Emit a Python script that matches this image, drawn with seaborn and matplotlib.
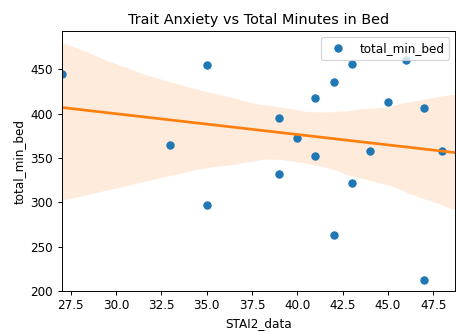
import matplotlib
matplotlib.use("Agg")
import matplotlib.pyplot as plt
import seaborn as sns
import pandas as pd
import numpy as np

stai2 = [27, 35, 33, 35, 43, 46, 42, 41, 45, 47, 39, 40, 41, 44, 48, 39, 43, 42, 47]
total_min_bed = [444, 455, 364, 297, 456, 460, 435, 417, 413, 406, 395, 372, 352, 358, 358, 332, 322, 263, 212]

df = pd.DataFrame({"STAI2_data": stai2, "total_min_bed": total_min_bed})

DPI = 86.4
fig = plt.figure(figsize=(456 / DPI, 332 / DPI), dpi=DPI)
ax = fig.add_axes([0.135, 0.1235, 0.863, 0.7831])

ax.plot(df["STAI2_data"], df["total_min_bed"], "o", color="#1f77b4", label="total_min_bed")
ax.set_xlim(27, 48.7)
sns.regplot(data=df, x="STAI2_data", y="total_min_bed", scatter=False, truncate=False,
            color="#ff7f0e", ax=ax, seed=7)
ax.set_xlim(27, 48.7)
ax.set_ylim(200, 493)
ax.set_title("Trait Anxiety vs Total Minutes in Bed", fontsize=12)
ax.set_xlabel("STAI2_data", fontsize=10)
ax.set_ylabel("total_min_bed", fontsize=10)
ax.tick_params(labelsize=10)
ax.legend(loc="upper right", fontsize=10)

fig.savefig("out.png", dpi=DPI)
